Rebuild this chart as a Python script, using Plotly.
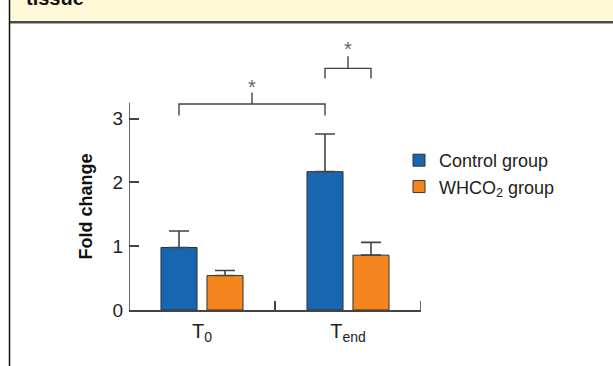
import plotly.graph_objects as go

# ---- data ----
categories = ["T<sub>0</sub>", "T<sub>end</sub>"]
series_names = ["Control group", "WHCO<sub>2</sub> group"]
control_values = [0.98, 2.17]
control_errors = [0.26, 0.59]
whco2_values = [0.54, 0.86]
whco2_errors = [0.08, 0.20]
y_ticks = [0, 1, 2, 3]
y_title = "Fold change"
header_text = "tissue"
sig_label = "*"

# ---- layout geometry ----
W, H = 613, 366
L, R, T, B = 129, 192, 39, 56
PW, PH = W - L - R, H - T - B


def px_x(p):
    return (p - L) / PW


def px_y(p):
    return (H - B - p) / PH


blue = "#1866B1"
orange = "#F5861F"
edge = "#333333"
axis_col = "#444444"
font_family = "Arial, Liberation Sans, Helvetica, sans-serif"

bar_w = 0.247
grp_off = 0.1575
axis_top = 3.25

fig = go.Figure()
fig.add_trace(go.Bar(
    x=categories, y=control_values, name=series_names[0],
    width=bar_w, offset=-grp_off - bar_w / 2,
    marker=dict(color=blue, line=dict(color=edge, width=1)),
    error_y=dict(type="data", array=control_errors, arrayminus=[0, 0],
                 color=axis_col, thickness=1.6, width=10),
))
fig.add_trace(go.Bar(
    x=categories, y=whco2_values, name=series_names[1],
    width=bar_w, offset=grp_off - bar_w / 2,
    marker=dict(color=orange, line=dict(color=edge, width=1)),
    error_y=dict(type="data", array=whco2_errors, arrayminus=[0, 0],
                 color=axis_col, thickness=1.6, width=10),
))

shapes = []
# y axis line (only to axis_top)
shapes.append(dict(type="line", xref="x", yref="y", x0=-0.5, x1=-0.5, y0=0, y1=axis_top,
                   line=dict(color=axis_col, width=1.6)))
# end tick of x axis
shapes.append(dict(type="line", xref="x", yref="y", x0=1.5, x1=1.5, y0=0, y1=0.14,
                   line=dict(color=axis_col, width=1.6)))

# significance brackets: (x left, x right, level, leg bottom, tick top, star y)
brackets = [
    (0 - grp_off, 1 - grp_off, 3.23, 3.05, 3.41, 3.50),
    (1 - grp_off, 1 + grp_off, 3.79, 3.63, 3.98, 4.09),
]
for xl, xr, lev, bot, top, sy in brackets:
    xm = (xl + xr) / 2
    path = f"M {xl},{bot} L {xl},{lev} L {xr},{lev} L {xr},{bot} M {xm},{lev} L {xm},{top}"
    shapes.append(dict(type="path", xref="x", yref="y", path=path,
                       line=dict(color=axis_col, width=1.4)))

# header band and borders
shapes.append(dict(type="rect", xref="paper", yref="paper",
                   x0=px_x(9), x1=px_x(614), y0=px_y(22), y1=px_y(-2),
                   fillcolor="#FFF9D8", line=dict(width=0), layer="below"))
shapes.append(dict(type="line", xref="paper", yref="paper",
                   x0=px_x(9), x1=px_x(614), y0=px_y(22), y1=px_y(22),
                   line=dict(color="#111111", width=1.5)))
shapes.append(dict(type="line", xref="paper", yref="paper",
                   x0=px_x(9), x1=px_x(614), y0=px_y(23.5), y1=px_y(23.5),
                   line=dict(color="#AAAAAA", width=1)))
shapes.append(dict(type="line", xref="paper", yref="paper",
                   x0=px_x(9.5), x1=px_x(9.5), y0=px_y(367), y1=px_y(-2),
                   line=dict(color="#111111", width=1.5)))

annotations = []
for xl, xr, lev, bot, top, sy in brackets:
    annotations.append(dict(x=(xl + xr) / 2, y=sy, xref="x", yref="y", text=sig_label,
                            showarrow=False, font=dict(size=20, color="#666666", family=font_family),
                            xanchor="center", yanchor="middle"))
annotations.append(dict(x=px_x(24), y=px_y(-2), xref="paper", yref="paper", text=f"<b>{header_text}</b>",
                        showarrow=False, xanchor="left", yanchor="middle",
                        font=dict(size=20, color="#111111", family=font_family)))
annotations.append(dict(x=px_x(86), y=axis_top / 2, xref="paper", yref="y", text=f"<b>{y_title}</b>",
                        showarrow=False, textangle=-90, xanchor="center", yanchor="middle",
                        font=dict(size=18, color="#111111", family=font_family)))

fig.update_layout(
    width=W, height=H,
    margin=dict(l=L, r=R, t=T, b=B, pad=0),
    paper_bgcolor="white", plot_bgcolor="white",
    barmode="overlay",
    font=dict(family=font_family, size=16, color="#222222"),
    showlegend=True,
    legend=dict(x=px_x(399), y=px_y(142), xanchor="left", yanchor="top",
                font=dict(size=18, color="#222222"), bgcolor="rgba(0,0,0,0)",
                tracegroupgap=0),
    shapes=shapes,
    annotations=annotations,
    xaxis=dict(type="category", range=[-0.5, 1.5], showgrid=False, zeroline=False,
               showline=True, linecolor=axis_col, linewidth=1.6,
               ticks="inside", tickson="boundaries", ticklen=9, tickwidth=1.6, tickcolor=axis_col,
               tickfont=dict(size=20, color="#222222"), ticklabelstandoff=2),
    yaxis=dict(range=[0, 4.25], showgrid=False, zeroline=False, showline=False,
               tickvals=y_ticks, ticks="inside", ticklen=10, tickwidth=1.6, tickcolor=axis_col,
               tickfont=dict(size=19, color="#222222"), ticklabelstandoff=5),
)

fig.write_html("out.html", post_script="document.body.style.margin='0';",
               config={"displayModeBar": False})
